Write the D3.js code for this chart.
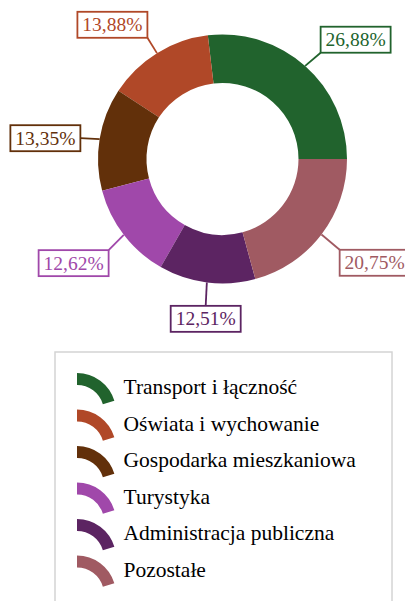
<!DOCTYPE html>
<html>
<head>
<meta charset="utf-8">
<script src="https://cdn.jsdelivr.net/npm/d3@7/dist/d3.min.js"></script>
</head>
<body style="margin:0">
<svg id="chart" width="405" height="601"></svg>
<script>
// Budget shares by sector (per cent)
const categories = [
  "Transport i łączność",
  "Oświata i wychowanie",
  "Gospodarka mieszkaniowa",
  "Turystyka",
  "Administracja publiczna",
  "Pozostałe"
];
const shares = [26.88, 13.88, 13.35, 12.62, 12.51, 20.75];
const valueLabels = ["26,88%", "13,88%", "13,35%", "12,62%", "12,51%", "20,75%"];
const colors = ["#21632d", "#b04828", "#62300a", "#a048aa", "#5c2462", "#a05a62"];

const svg = d3.select("#chart");
const serif = '"Liberation Serif"';

const cx = 222.5, cy = 159;
const rOuter = 124.5, rInner = 76;

const data = categories.map((c, i) => ({ name: c, value: shares[i], label: valueLabels[i], color: colors[i] }));

// Slices run counter-clockwise, starting from the 3 o'clock position
const pie = d3.pie()
  .sort(null)
  .value(d => d.value)
  .startAngle(Math.PI / 2)
  .endAngle(Math.PI / 2 - 2 * Math.PI);

const arcs = pie(data);
const arc = d3.arc().innerRadius(rInner).outerRadius(rOuter);

const g = svg.append("g").attr("transform", `translate(${cx},${cy})`);

g.selectAll("path.slice")
  .data(arcs)
  .join("path")
  .attr("class", "slice")
  .attr("d", arc)
  .attr("fill", d => d.data.color);

// Value callouts: leader line from the outer edge, boxed label at its end
const leaderLen = 21;
const boxW = 70, boxH = 26;

arcs.forEach(a => {
  const mid = (a.startAngle + a.endAngle) / 2;
  const ux = Math.sin(mid), uy = -Math.cos(mid);
  const sx = ux * rOuter, sy = uy * rOuter;
  const ex = ux * (rOuter + leaderLen) + 1.5, ey = uy * (rOuter + leaderLen) + 2.5;

  let bx, by;
  if (ux > 0.3) bx = ex; else if (ux < -0.3) bx = ex - boxW; else bx = ex - boxW / 2;
  if (uy > 0.3) by = ey; else if (uy < -0.3) by = ey - boxH; else by = ey - boxH / 2;

  g.append("line")
    .attr("x1", sx).attr("y1", sy)
    .attr("x2", ex).attr("y2", ey)
    .attr("stroke", a.data.color)
    .attr("stroke-width", 1.8);

  g.append("rect")
    .attr("x", bx).attr("y", by)
    .attr("width", boxW).attr("height", boxH)
    .attr("fill", "#fff")
    .attr("stroke", a.data.color)
    .attr("stroke-width", 1.8);

  g.append("text")
    .attr("x", bx + boxW / 2)
    .attr("y", by + 19.5)
    .attr("text-anchor", "middle")
    .style("font-family", serif)
    .style("font-size", "19.5px")
    .style("fill", a.data.color)
    .text(a.data.label);
});

// Legend
const legend = svg.append("g");
legend.append("rect")
  .attr("x", 55).attr("y", 352)
  .attr("width", 337).attr("height", 280)
  .attr("fill", "#fff")
  .attr("stroke", "#d4d4d4")
  .attr("stroke-width", 1.5);

const rowY = d3.scalePoint().domain(categories).range([0, 36.5 * (categories.length - 1)]);
const iconArc = d3.arc()
  .innerRadius(27)
  .outerRadius(39)
  .startAngle(0)
  .endAngle(1.28);

const rows = legend.selectAll("g.row")
  .data(data)
  .join("g")
  .attr("class", "row")
  .attr("transform", d => `translate(0,${rowY(d.name)})`);

rows.append("path")
  .attr("transform", "translate(77,412)")
  .attr("d", iconArc)
  .attr("fill", d => d.color);

rows.append("text")
  .attr("x", 123.5)
  .attr("y", 394)
  .style("font-family", serif)
  .style("font-size", "21.5px")
  .style("fill", "#000")
  .text(d => d.name);
</script>
</body>
</html>
